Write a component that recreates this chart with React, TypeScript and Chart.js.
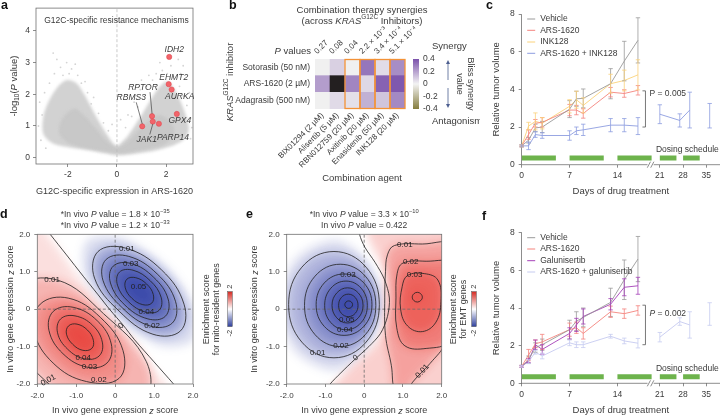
import React, { useEffect, useRef } from 'react';
import { Chart, registerables, LinearScale } from 'chart.js';

const FONT = "'Liberation Sans', Arial, Helvetica, sans-serif";
const INK = '#3a3a3a';
const AXIS = '#707070';

/* ---------------- panel a : volcano ---------------- */
const A_X_TICKS = [-2, 0, 2];
const A_Y_TICKS = [0, 1, 2, 3, 4];
const A_GENES = ['IDH2', 'EHMT2', 'AURKA', 'GPX4', 'RPTOR', 'JAK1', 'PARP14', 'RBMS3'];
const A_GENE_X = [2.13, 2.11, 2.23, 2.44, 1.43, 1.46, 1.71, 1.03];
const A_GENE_Y = [3.18, 2.32, 2.15, 1.38, 1.31, 1.14, 1.07, 0.99];
const A_CLOUD_OUTER = [[0, 0.08], [-0.5, 0.14], [-1.2, 0.24], [-1.9, 0.32], [-2.6, 0.45], [-3.0, 0.75], [-3.0, 1.3], [-2.8, 1.75], [-2.45, 2.2], [-2.05, 2.45], [-1.65, 2.35], [-1.3, 1.95], [-0.85, 1.3], [-0.45, 0.78], [-0.15, 0.45], [0, 0.38], [0.15, 0.45], [0.5, 0.75], [0.95, 1.28], [1.35, 1.8], [1.7, 2.2], [2.05, 2.4], [2.45, 2.0], [2.8, 1.35], [2.92, 0.85], [2.6, 0.5], [1.7, 0.25], [0.6, 0.11]];
const A_CLOUD_CORE = [[0, 0.14], [-0.6, 0.2], [-1.3, 0.3], [-1.95, 0.45], [-2.35, 0.75], [-2.25, 1.2], [-1.75, 1.55], [-1.35, 1.35], [-0.9, 0.95], [-0.45, 0.55], [0, 0.32], [0.45, 0.52], [0.9, 0.88], [1.35, 1.2], [1.75, 1.35], [2.15, 1.15], [2.35, 0.8], [2.0, 0.45], [1.4, 0.3], [0.65, 0.18]];
const A_SPARSE = [[-3.15, 1.75], [-3.05, 1.35], [-3.2, 1.0], [-3.1, 0.55], [-2.95, 2.05], [-2.75, 2.35], [-2.55, 2.65], [-2.3, 2.85], [-2.05, 3.0], [-1.85, 2.8], [-1.6, 2.6], [-1.45, 2.35], [-2.2, 2.6], [-1.95, 2.65], [-1.2, 2.05], [-1.05, 1.7], [-0.75, 1.4], [-0.55, 1.1], [-1.7, 2.95], [-2.45, 3.1], [-1.3, 2.4], [-2.9, 0.3], [-0.35, 0.85], [-0.95, 1.9], [0.35, 0.95], [0.6, 1.3], [0.85, 1.6], [1.05, 1.95], [1.2, 2.25], [1.45, 2.45], [1.6, 2.65], [1.85, 2.75], [2.05, 2.65], [2.3, 2.55], [2.55, 2.25], [2.7, 1.95], [2.85, 1.65], [3.0, 1.25], [3.05, 0.95], [3.0, 0.6], [1.3, 2.6], [0.95, 2.15], [2.2, 2.9], [1.75, 3.0], [2.6, 2.65], [2.95, 2.05], [0.7, 1.75], [0.45, 1.35], [2.7, 2.9], [1.0, 2.45], [-0.2, 1.05], [0.15, 1.2], [-2.6, 3.3], [2.5, 3.1]];
// label layout (pixel offsets from the point)
const A_LABEL_DX = [5, 5, 8, 3, -9, -6, 14, -11];
const A_LABEL_DY = [-7, -7, 7, 7, -29, 18, 14, -29];
const A_LEADER_DX = [null, null, null, null, 7, 3, null, 5];

/* ---------------- panel b : heatmap ---------------- */
const B_AGENTS = ['BIX01294 (2 µM)', 'Alisertib (5 µM)', 'RBN012759 (20 µM)', 'Axitinib (20 µM)', 'Enasidenib (50 µM)', 'INK128 (20 µM)'];
const B_P_VALUES = ['0.27', '0.08', '0.04', '2.2 × 10⁻³', '3.4 × 10⁻⁴', '5.1 × 10⁻⁴'];
const B_INHIBITORS = ['Sotorasib (50 nM)', 'ARS-1620 (2 µM)', 'Adagrasib (500 nM)'];
const B_SOTORASIB = [0.0, 0.08, 0.0, 0.31, 0.05, 0.25];
const B_ARS1620 = [0.21, 0.6, 0.27, 0.06, 0.36, 0.385];
const B_ADAGRASIB = [0.0, 0.055, 0.04, 0.16, 0.11, 0.26];
const B_HIGHLIGHT = [2, 3, 4, 5];
const B_CBAR_TICKS = [0.4, 0.2, 0, -0.2, -0.4];

/* ---------------- panels c & f : tumour growth ---------------- */
const DAYS = [0, 1, 2, 3, 7, 8, 9, 13, 15, 17];
const LATE_DAYS = [21, 27, 30, 36];
const DAY_TICKS = [0, 7, 14, 21, 28, 35];
const VOL_TICKS_STEP = 2;
const DOSING = [[0, 5], [7, 12], [14, 19], [21, 26], [28, 33]];

const VEH_C = [1.0, 1.3, 1.95, 2.0, 2.95, 3.5, 3.52, 4.3, 5.5, 6.6];
const VEH_C_ERR = [0.05, 0.15, 0.2, 0.3, 0.45, 0.4, 0.5, 0.8, 1.05, 1.2];
const ARS_C = [1.0, 1.6, 2.2, 2.25, 2.9, 2.9, 2.72, 3.85, 3.78, 3.95];
const ARS_C_ERR = [0.05, 0.25, 0.2, 0.25, 0.3, 0.25, 0.25, 0.25, 0.2, 0.25];
const INK_C = [1.0, 2.05, 2.3, 2.2, 3.1, 3.45, 3.15, 4.3, 4.47, 4.77];
const INK_C_ERR = [0.05, 0.2, 0.45, 0.3, 0.35, 0.45, 0.4, 0.5, 0.55, 0.8];
const COMBO_C = [1.0, 1.0, 1.6, 1.55, 1.55, 1.8, 1.85, 2.1, 2.1, 2.05];
const COMBO_C_ERR = [0.05, 0.2, 0.15, 0.15, 0.25, 0.2, 0.3, 0.35, 0.35, 0.45];
const COMBO_C_LATE = [2.68, 2.35, 2.9, 2.6];
const COMBO_C_LATE_ERR = [0.5, 0.35, 0.95, 0.65];
const C_LABELS = ['Vehicle', 'ARS-1620', 'INK128', 'ARS-1620 + INK128'];

const VEH_F = [0.9, 1.25, 1.9, 2.05, 2.85, 3.3, 3.5, 4.3, 5.5, 6.6];
const VEH_F_ERR = [0.05, 0.2, 0.25, 0.3, 0.5, 0.5, 0.5, 0.75, 1.05, 1.2];
const ARS_F = [0.9, 1.5, 2.1, 2.2, 2.85, 2.95, 2.65, 3.8, 3.7, 3.87];
const ARS_F_ERR = [0.05, 0.3, 0.2, 0.4, 0.35, 0.3, 0.3, 0.3, 0.25, 0.25];
const GAL_F = [0.9, 1.2, 2.05, 1.8, 2.65, 3.1, 3.55, 4.2, 5.1, 5.18];
const GAL_F_ERR = [0.05, 0.1, 0.25, 0.25, 0.3, 0.35, 0.4, 0.3, 0.45, 0.45];
const COMBO_F = [0.9, 1.15, 1.65, 1.45, 2.15, 2.05, 2.05, 2.5, 2.25, 2.13];
const COMBO_F_ERR = [0.05, 0.1, 0.1, 0.15, 0.15, 0.15, 0.15, 0.1, 0.15, 0.25];
const COMBO_F_LATE = [2.45, 3.28, 3.1, 3.68];
const COMBO_F_LATE_ERR = [0.25, 0.2, 0.7, 0.6];
const F_LABELS = ['Vehicle', 'ARS-1620', 'Galunisertib', 'ARS-1620 + galunisertib'];

/* ---------------- panels d & e : contour maps ---------------- */
const MAP_TICKS = [-2, -1, 0, 1, 2];
const D_BLUE = [
  [[1.68, -0.58], [1.77, 0.13], [1.19, 1.05], [0.27, 1.63], [-0.44, 1.54], [-0.53, 0.83], [0.1, -0.05], [0.97, -0.67]],
  [[1.47, -0.37], [1.55, 0.21], [1.08, 0.94], [0.35, 1.41], [-0.23, 1.33], [-0.31, 0.76], [0.18, 0.04], [0.9, -0.45]],
  [[1.29, -0.19], [1.36, 0.27], [0.99, 0.85], [0.41, 1.22], [-0.05, 1.15], [-0.12, 0.7], [0.25, 0.11], [0.84, -0.26]],
  [[1.13, -0.03], [1.18, 0.32], [0.9, 0.76], [0.46, 1.04], [0.11, 0.99], [0.06, 0.64], [0.34, 0.2], [0.78, -0.08]],
  [[0.94, 0.16], [0.98, 0.39], [0.81, 0.67], [0.53, 0.84], [0.3, 0.8], [0.26, 0.57], [0.43, 0.29], [0.71, 0.12]],
];
const D_BLUE_HALO = [[1.96, -0.86], [2.05, 0.0], [1.29, 1.15], [0.15, 1.91], [-0.72, 1.82], [-0.78, 0.92], [0.0, -0.15], [1.1, -0.95]];
const D_RED = [
  [[0.75, -2.4], [0.8, -1.4], [-0.3, -0.12], [-1.475, 0.775], [-2.535, 0.585], [-2.725, -0.475], [-1.93, -1.78], [-0.625, -2.575]],
  [[0.1, -1.85], [0.2, -1.1], [-0.38, -0.22], [-1.205, 0.295], [-1.924, 0.134], [-2.085, -0.585], [-1.592, -1.442], [-0.735, -1.935]],
  [[-0.21, -1.44], [-0.1, -0.93], [-0.46, -0.31], [-1.08, 0.05], [-1.59, -0.06], [-1.7, -0.57], [-1.34, -1.19], [-0.72, -1.55]],
  [[-0.41, -1.25], [-0.33, -0.88], [-0.58, -0.43], [-1.03, -0.18], [-1.4, -0.26], [-1.48, -0.63], [-1.22, -1.07], [-0.78, -1.33]],
  [[-0.6, -1.05], [-0.56, -0.83], [-0.71, -0.56], [-0.98, -0.4], [-1.2, -0.45], [-1.25, -0.67], [-1.09, -0.94], [-0.83, -1.1]],
];
const D_RED_HALO = [[-1.85, 2.1], [-0.95, 0.85], [-0.25, -0.05], [0.4, -0.9], [1.35, -2.1], [1.4, -2.6], [-2.6, -2.6], [-2.6, 2.4]];
const D_ZERO = [[-1.9, 2.3], [-1.67, 2.0], [-1.25, 1.45], [-0.82, 0.88], [-0.45, 0.4], [-0.13, -0.02], [0.2, -0.42], [0.5, -0.82], [1.0, -1.41], [1.5, -2.0], [1.7, -2.25]];
const D_LABELS = [['0.01', 0.3, 1.62, 0], ['0.03', 0.4, 1.2, 0], ['0.05', 0.6, 0.6, 0], ['0.04', 0.8, -0.07, 0], ['0.02', 0.95, -0.45, 0], ['0', 0.15, -0.45, -0.7], ['0.01', -1.62, 0.79, 0], ['0.04', -0.82, -1.3, 0], ['0.03', -0.66, -1.54, 0], ['0.02', -0.42, -1.88, 0], ['0.01', -1.72, -1.9, -0.5]];

const E_BLUE = [
  [[0.39, 0.12], [0.05, 1.12], [-0.78, 1.54], [-1.61, 1.12], [-1.95, 0.12], [-1.61, -0.88], [-0.78, -1.3], [0.05, -0.88]],
  [[0.3, 0.1], [0.03, 0.88], [-0.62, 1.2], [-1.27, 0.88], [-1.54, 0.1], [-1.27, -0.68], [-0.62, -1.0], [0.03, -0.68]],
  [[0.2, 0.12], [-0.01, 0.7], [-0.52, 0.94], [-1.03, 0.7], [-1.24, 0.12], [-1.03, -0.46], [-0.52, -0.7], [-0.01, -0.46]],
  [[0.08, 0.1], [-0.08, 0.56], [-0.47, 0.75], [-0.86, 0.56], [-1.02, 0.1], [-0.86, -0.36], [-0.47, -0.55], [-0.08, -0.36]],
  [[-0.03, 0.1], [-0.15, 0.43], [-0.43, 0.57], [-0.71, 0.43], [-0.83, 0.1], [-0.71, -0.23], [-0.43, -0.37], [-0.15, -0.23]],
  [[-0.16, 0.1], [-0.23, 0.31], [-0.41, 0.4], [-0.59, 0.31], [-0.66, 0.1], [-0.59, -0.11], [-0.41, -0.2], [-0.23, -0.11]],
  [[-0.3, 0.12], [-0.33, 0.19], [-0.4, 0.22], [-0.47, 0.19], [-0.5, 0.12], [-0.47, 0.05], [-0.4, 0.02], [-0.33, 0.05]],
];
const E_BLUE_HALO = [[0.42, 0.1], [0.05, 1.3], [-0.75, 1.85], [-1.78, 1.34], [-2.2, 0.1], [-1.78, -1.14], [-0.75, -1.65], [0.0, -1.1]];
const E_RED = [
  [[0.6, 1.45], [0.78, 1.7], [1.5, 1.74], [2.3, 1.7], [2.45, 0.3], [2.1, -0.9], [1.7, -1.45], [1.25, -1.95], [1.05, -2.3], [0.8, -2.2], [0.7, -1.5], [0.55, -0.7], [0.53, 0.3], [0.55, 1.0]],
  [[0.85, 0.95], [1.0, 1.23], [1.6, 1.28], [2.3, 1.2], [2.4, 0.1], [2.2, -0.85], [1.6, -1.05], [1.05, -0.98], [0.84, -0.5], [0.82, 0.3]],
  [[0.98, 0.6], [1.12, 0.9], [1.55, 0.95], [1.9, 0.78], [1.98, 0.2], [1.85, -0.35], [1.5, -0.6], [1.12, -0.45], [0.94, 0.0]],
  [[1.5, 0.32], [1.46, 0.41], [1.37, 0.45], [1.28, 0.41], [1.24, 0.32], [1.28, 0.23], [1.37, 0.19], [1.46, 0.23]],
];
const E_RED_HALO = [[0.05, 2.5], [2.6, 2.5], [2.6, -2.5], [-1.1, -2.5], [-0.35, -1.55], [0.2, -1.05], [0.55, -0.5], [0.74, 0.2], [0.62, 0.9], [0.35, 1.4], [0.1, 1.95]];
const E_ZERO = [[-0.15, 2.4], [-0.12, 2.0], [0.02, 1.65], [0.28, 1.25], [0.52, 0.8], [0.65, 0.3], [0.6, -0.2], [0.42, -0.65], [0.12, -1.0], [-0.25, -1.35], [-0.6, -1.7], [-0.88, -2.0], [-1.05, -2.25]];
const E_LABELS = [['0.01', 1.05, 1.72, 0], ['0.02', 1.2, 1.26, 0], ['0.03', 1.3, 0.93, 0], ['0.01', 1.5, -1.66, -0.82], ['0', -0.22, -1.3, -0.6], ['0.03', -0.42, 0.93, 0], ['0.05', -0.45, -0.28, 0], ['0.04', -0.5, -0.56, 0], ['0.02', -0.6, -0.99, 0], ['0.01', -1.2, -1.16, 0]];

/* ---------------- helpers ---------------- */
const pts = (arr) => arr.map(([x, y]) => ({ x, y }));
const T = (t, o = {}) => ({ t, ...o });

function rich(ctx, runs, x, y, size, align = 'center', rot = 0, color = INK) {
  ctx.save();
  ctx.translate(x, y);
  if (rot) ctx.rotate(rot);
  const fontOf = (r) => `${r.b ? 'bold ' : ''}${r.i ? 'italic ' : ''}${r.sup || r.sub ? size * 0.68 : size}px ${FONT}`;
  let total = 0;
  const ws = runs.map((r) => { ctx.font = fontOf(r); const w = ctx.measureText(r.t).width; total += w; return w; });
  let cx = align === 'center' ? -total / 2 : align === 'right' ? -total : 0;
  ctx.fillStyle = color;
  ctx.textBaseline = 'middle';
  ctx.textAlign = 'left';
  runs.forEach((r, k) => {
    ctx.font = fontOf(r);
    const dy = r.sup ? -size * 0.38 : r.sub ? size * 0.3 : 0;
    ctx.fillText(r.t, cx, dy);
    cx += ws[k];
  });
  ctx.restore();
}

// broken day axis: second segment is compressed
const SEG2_START = 21;
const SEG2_AXIS = 20.2;
const SEG2_RATE = 0.486;
const dayToAxis = (d) => (d <= 20 ? d : SEG2_AXIS + (d - SEG2_START) * SEG2_RATE);

class BrokenScale extends LinearScale {
  static id = 'brokenLinear';
  getPixelForValue(v) {
    return super.getPixelForValue(v === null || v === undefined || isNaN(v) ? v : dayToAxis(v));
  }
}

const fxPlugin = {
  id: 'fx',
  afterDatasetsUpdate(chart) {
    chart.data.datasets.forEach((ds, i) => {
      if (!ds.closed) return;
      const el = chart.getDatasetMeta(i).dataset;
      if (!el) return;
      el._loop = true;
      el._fullLoop = true;
      el._pointsUpdated = false;
      delete el._segments;
      delete el._path;
    });
  },
  beforeDatasetsDraw(chart, _a, opts) {
    if (opts && opts.blur) {
      chart.ctx.save();
      chart.ctx.filter = `blur(${opts.blur}px)`;
      chart.$fxOn = true;
    }
  },
  beforeDatasetDraw(chart) {
    if (chart.$fxOn) { chart.ctx.restore(); chart.$fxOn = false; }
  },
  afterDatasetsDraw(chart) {
    if (chart.$fxOn) { chart.ctx.restore(); chart.$fxOn = false; }
  },
};

Chart.register(fxPlugin);
Chart.register(...registerables);
Chart.register(BrokenScale);
Chart.defaults.font.family = FONT;
Chart.defaults.font.size = 8;
Chart.defaults.color = INK;

const tickFont = (size = 8) => ({ color: INK, font: { family: FONT, size } });
const gridTicks = { display: true, drawOnChartArea: false, drawTicks: true, tickLength: 3, color: AXIS, lineWidth: 0.8 };
const noGrid = { display: false, drawTicks: false };
const baseOpts = {
  responsive: false,
  maintainAspectRatio: false,
  animation: false,
  events: [],
};
const basePlugins = { legend: { display: false }, tooltip: { enabled: false }, filler: { drawTime: 'beforeDatasetsDraw' } };
const fixedTicks = (vals) => (s) => { s.ticks = vals.map((v) => ({ value: v })); };
const letter = (ctx, l, x, y) => rich(ctx, [T(l, { b: true })], x, y, 12.5, 'left', 0, '#111');

/* ---------------- panel a ---------------- */
function buildA() {
  const plug = {
    id: 'plugA',
    afterDraw(chart) {
      const { ctx, chartArea: a, scales: { x, y } } = chart;
      ctx.save();
      ctx.strokeStyle = AXIS; ctx.lineWidth = 0.8;
      ctx.strokeRect(a.left, a.top, a.right - a.left, a.bottom - a.top);
      rich(ctx, [T('G12C-specific resistance mechanisms')], (a.left + a.right) / 2 + 2, a.top + 13, 8.5);
      A_GENES.forEach((g, i) => {
        const px = x.getPixelForValue(A_GENE_X[i]);
        const py = y.getPixelForValue(A_GENE_Y[i]);
        const lx = px + A_LABEL_DX[i];
        const ly = py + A_LABEL_DY[i];
        if (A_LEADER_DX[i] !== null) {
          const up = A_LABEL_DY[i] < 0;
          ctx.beginPath();
          ctx.moveTo(lx + A_LEADER_DX[i], ly + (up ? 5 : -5));
          ctx.lineTo(px, py + (up ? -2.5 : 2.5));
          ctx.strokeStyle = '#444'; ctx.lineWidth = 0.7; ctx.stroke();
        }
        rich(ctx, [T(g, { i: true })], lx, ly, 8.5);
      });
      rich(ctx, [T('-log'), T('10', { sub: true }), T('('), T('P', { i: true }), T(' value)')], 14, (a.top + a.bottom) / 2, 9.5, 'center', -Math.PI / 2);
      letter(ctx, 'a', 1, 6);
      ctx.restore();
    },
  };
  return {
    type: 'scatter',
    data: {
      datasets: [
        { data: A_GENES.map((g, i) => ({ x: A_GENE_X[i], y: A_GENE_Y[i] })), pointRadius: 2.6, pointBackgroundColor: '#f2646a', pointBorderColor: '#e04a50', pointBorderWidth: 0.6 },
        { data: pts(A_SPARSE), pointRadius: 0.9, pointBackgroundColor: '#d4d4d4', pointBorderWidth: 0 },
        { data: [{ x: 0, y: -0.3 }, { x: 0, y: 5 }], showLine: true, pointRadius: 0, borderColor: '#bcbcbc', borderWidth: 0.8, borderDash: [3, 2], fill: false },
        { data: pts(A_CLOUD_CORE), showLine: true, closed: true, tension: 0.3, pointRadius: 0, borderWidth: 0, borderColor: 'rgba(0,0,0,0)', fill: 'shape', backgroundColor: 'rgba(190,190,190,0.5)' },
        { data: pts(A_CLOUD_OUTER), showLine: true, closed: true, tension: 0.3, pointRadius: 0, borderWidth: 0, borderColor: 'rgba(0,0,0,0)', fill: 'shape', backgroundColor: 'rgba(202,202,202,0.85)' },
      ],
    },
    options: {
      ...baseOpts,
      layout: { padding: { left: 0, top: 5, right: 29, bottom: 0 } },
      plugins: { ...basePlugins, fx: { blur: 1.5 } },
      scales: {
        x: {
          type: 'linear', min: -3.3, max: 3.1, afterBuildTicks: fixedTicks(A_X_TICKS),
          afterFit: (s) => { s.height = 41; },
          grid: gridTicks, border: { display: false },
          ticks: { ...tickFont(8.5), padding: 3 },
          title: { display: true, text: 'G12C-specific expression in ARS-1620', color: INK, font: { family: FONT, size: 9.5 }, padding: { top: 0, bottom: 7.5 } },
        },
        y: {
          type: 'linear', min: -0.2, max: 4.72, afterBuildTicks: fixedTicks(A_Y_TICKS),
          afterFit: (s) => { s.width = 36; },
          grid: gridTicks, border: { display: false },
          ticks: { ...tickFont(8.5), padding: 3 },
        },
      },
    },
    plugins: [plug],
  };
}

/* ---------------- panel b ---------------- */
function cellColor(v) {
  if (v > 0.45) return '#231f20';
  const t = Math.max(-1, Math.min(1, v / 0.4));
  const zero = [240, 240, 240];
  const end = t >= 0 ? [123, 82, 171] : [131, 125, 62];
  const a = Math.abs(t);
  return `rgb(${zero.map((z, k) => Math.round(z + (end[k] - z) * a)).join(',')})`;
}

function buildB() {
  const rowsBottomUp = [B_ADAGRASIB, B_ARS1620, B_SOTORASIB];
  const plug = {
    id: 'plugB',
    afterDraw(chart) {
      const { ctx, chartArea: a, scales: { x } } = chart;
      const w = x.getPixelForValue(1) - x.getPixelForValue(0);
      const h = a.bottom - a.top;
      const cy = (a.top + a.bottom) / 2;
      ctx.save();
      ctx.strokeStyle = '#f39237'; ctx.lineWidth = 1.3;
      B_HIGHLIGHT.forEach((i) => {
        const cx = x.getPixelForValue(i);
        ctx.strokeRect(cx - w / 2, a.top + 0.5, w, h - 1);
      });
      // colour bar
      const cbx = a.right + 8;
      const g = ctx.createLinearGradient(0, a.top, 0, a.bottom);
      g.addColorStop(0, '#7b52ab'); g.addColorStop(0.5, '#f3f3f3'); g.addColorStop(1, '#857d3e');
      ctx.fillStyle = g; ctx.fillRect(cbx, a.top, 6, h);
      B_CBAR_TICKS.forEach((v) => {
        const yy = a.top + ((0.4 - v) / 0.8) * h;
        rich(ctx, [T(v === 0 ? '0' : (v < 0 ? '-' : '') + Math.abs(v).toFixed(1))], cbx + 10, yy, 8.5, 'left');
      });
      // arrows
      const ax = a.right + 43;
      ctx.strokeStyle = '#4d5f90'; ctx.fillStyle = '#4d5f90'; ctx.lineWidth = 0.8;
      ctx.beginPath(); ctx.moveTo(ax, a.top + 21); ctx.lineTo(ax, a.top + 3); ctx.moveTo(ax, a.top + 29); ctx.lineTo(ax, a.bottom - 3); ctx.stroke();
      ctx.beginPath(); ctx.moveTo(ax, a.top + 1); ctx.lineTo(ax - 2, a.top + 5); ctx.lineTo(ax + 2, a.top + 5); ctx.closePath(); ctx.fill();
      ctx.beginPath(); ctx.moveTo(ax, a.bottom - 1); ctx.lineTo(ax - 2, a.bottom - 5); ctx.lineTo(ax + 2, a.bottom - 5); ctx.closePath(); ctx.fill();
      rich(ctx, [T('Synergy')], a.right + 27, a.top - 13, 9.5, 'left');
      rich(ctx, [T('Antagonism')], a.right + 27, a.bottom + 12, 9.5, 'left');
      rich(ctx, [T('Bliss synergy')], a.right + 65, cy, 9, 'center', Math.PI / 2);
      rich(ctx, [T('value')], a.right + 54, cy, 9, 'center', Math.PI / 2);
      // titles
      const mx = (a.left + a.right) / 2 + 2;
      rich(ctx, [T('Combination therapy synergies')], mx, 10, 9.5);
      rich(ctx, [T('(across '), T('KRAS', { i: true }), T('G12C', { sup: true }), T(' Inhibitors)')], mx, 21, 9.5);
      rich(ctx, [T('P', { i: true }), T(' values')], a.left - 4, 51, 9.5, 'right');
      rich(ctx, [T('KRAS', { i: true }), T('G12C', { sup: true }), T(' inhibitor')], 8, cy - 2, 9.5, 'center', -Math.PI / 2);
      rich(ctx, [T('Combination agent')], mx, 178, 9.5);
      letter(ctx, 'b', 7, 6);
      ctx.restore();
    },
  };
  return {
    type: 'bar',
    data: {
      labels: B_AGENTS,
      datasets: rowsBottomUp.map((vals) => ({
        data: vals.map(() => 1),
        backgroundColor: vals.map(cellColor),
        borderWidth: 0,
        barPercentage: 1,
        categoryPercentage: 1,
      })),
    },
    options: {
      ...baseOpts,
      layout: { padding: { left: 0, top: 0, right: 75, bottom: 0 } },
      plugins: { ...basePlugins },
      scales: {
        x: {
          type: 'category', stacked: true, offset: true,
          grid: noGrid, border: { display: false },
          ticks: { ...tickFont(8), minRotation: 45, maxRotation: 45, autoSkip: false, padding: 2 },
          afterFit: (s) => { s.height = 96; },
        },
        x2: {
          type: 'category', labels: B_P_VALUES, position: 'top', offset: true,
          grid: noGrid, border: { display: false },
          ticks: { ...tickFont(8), minRotation: 45, maxRotation: 45, autoSkip: false, padding: 3 },
          afterFit: (s) => { s.height = 59; },
        },
        y: {
          type: 'linear', stacked: true, min: 0, max: 3,
          afterBuildTicks: fixedTicks([0.5, 1.5, 2.5]),
          grid: noGrid, border: { display: false },
          ticks: { ...tickFont(8.5), padding: 5, callback: (v, i) => B_INHIBITORS[2 - i] },
          afterFit: (s) => { s.width = 93; },
        },
      },
    },
    plugins: [plug],
  };
}

/* ---------------- panels c & f ---------------- */
const LEGEND_DY = [5, 16.3, 28, 39.3];
const BREAK_L = 18.4;
const BREAK_R = 19.3;
const DOSING_Y = 0.35;
const DOSING_LABEL_DAY = 29.3;
const BRACKET_DAY = 18.1;

function buildTumor(spec) {
  const datasets = [];
  spec.groups.forEach((g) => {
    datasets.push({ data: DAYS.map((d, i) => ({ x: d, y: g.vals[i] })), err: g.err, showLine: true, borderColor: g.color, borderWidth: 0.9, pointRadius: 0, fill: false });
  });
  datasets.push({ data: LATE_DAYS.map((d, i) => ({ x: d, y: spec.late.vals[i] })), err: spec.late.err, showLine: true, borderColor: spec.late.color, borderWidth: 0.9, pointRadius: 0, fill: false });
  DOSING.forEach(([s, e]) => {
    datasets.push({ data: [{ x: s, y: DOSING_Y }, { x: e, y: DOSING_Y }], showLine: true, borderColor: '#6db34c', borderWidth: 5, pointRadius: 0, fill: false });
  });
  const plug = {
    id: 'tumor_' + spec.letter,
    afterDatasetsDraw(chart) {
      const { ctx, scales: { x, y } } = chart;
      ctx.save(); ctx.lineWidth = 0.8;
      chart.data.datasets.forEach((ds) => {
        if (!ds.err) return;
        ctx.strokeStyle = ds.borderColor;
        ds.data.forEach((p, k) => {
          const px = x.getPixelForValue(p.x);
          const lo = y.getPixelForValue(p.y - ds.err[k]);
          const hi = y.getPixelForValue(p.y + ds.err[k]);
          ctx.beginPath();
          ctx.moveTo(px, lo); ctx.lineTo(px, hi);
          ctx.moveTo(px - 2.2, lo); ctx.lineTo(px + 2.2, lo);
          ctx.moveTo(px - 2.2, hi); ctx.lineTo(px + 2.2, hi);
          ctx.stroke();
        });
      });
      ctx.restore();
    },
    afterDraw(chart) {
      const { ctx, chartArea: a, scales: { x, y } } = chart;
      ctx.save();
      ctx.strokeStyle = AXIS; ctx.lineWidth = 0.8;
      ctx.beginPath();
      ctx.moveTo(x.getPixelForValue(0) - 0.4, a.bottom); ctx.lineTo(x.getPixelForValue(BREAK_L), a.bottom);
      ctx.moveTo(x.getPixelForValue(BREAK_R), a.bottom); ctx.lineTo(a.right, a.bottom);
      [BREAK_L + 0.2, BREAK_R - 0.2].forEach((v) => {
        const bx = x.getPixelForValue(v);
        ctx.moveTo(bx - 1.6, a.bottom + 3); ctx.lineTo(bx + 1.6, a.bottom - 3);
      });
      ctx.stroke();
      spec.labels.forEach((lab, k) => {
        const yy = a.top + LEGEND_DY[k];
        ctx.strokeStyle = spec.colors[k]; ctx.lineWidth = 1;
        ctx.beginPath(); ctx.moveTo(a.left + 5.5, yy); ctx.lineTo(a.left + 13.5, yy); ctx.stroke();
        rich(ctx, [T(lab)], a.left + 18.5, yy, 8.5, 'left');
      });
      const bx = x.getPixelForValue(BRACKET_DAY);
      const b1 = y.getPixelForValue(spec.bracket[0]);
      const b2 = y.getPixelForValue(spec.bracket[1]);
      ctx.strokeStyle = '#555'; ctx.lineWidth = 0.8;
      ctx.beginPath(); ctx.moveTo(bx - 3, b1); ctx.lineTo(bx, b1); ctx.lineTo(bx, b2); ctx.lineTo(bx - 3, b2); ctx.stroke();
      rich(ctx, spec.pRuns, bx + 4, y.getPixelForValue(spec.pTextY), 8.5, 'left');
      rich(ctx, [T('Dosing schedule')], x.getPixelForValue(DOSING_LABEL_DAY), y.getPixelForValue(0.78), 8.5);
      letter(ctx, spec.letter, spec.letterX, spec.letterY);
      ctx.restore();
    },
  };
  return {
    type: 'scatter',
    data: { datasets },
    options: {
      ...baseOpts,
      layout: { padding: { left: 0, top: spec.padTop, right: 1, bottom: 0 } },
      plugins: { ...basePlugins },
      scales: {
        x: {
          type: 'brokenLinear', min: 0, max: 29, afterBuildTicks: fixedTicks(DAY_TICKS),
          afterFit: (s) => { s.height = spec.xH; },
          grid: gridTicks, border: { display: false },
          ticks: { ...tickFont(8.5), padding: 3, autoSkip: false },
          title: { display: true, text: 'Days of drug treatment', color: INK, font: { family: FONT, size: 9.5 }, padding: { top: 0, bottom: spec.titlePad } },
        },
        y: {
          type: 'linear', min: 0, max: 8,
          afterFit: (s) => { s.width = 41.7; },
          grid: gridTicks, border: { display: true, color: AXIS, width: 0.8 },
          ticks: { ...tickFont(8.5), padding: 4, stepSize: VOL_TICKS_STEP },
          title: { display: true, text: 'Relative tumor volume', color: INK, font: { family: FONT, size: 9.5 }, padding: { top: 11, bottom: 0 } },
        },
      },
    },
    plugins: [plug],
  };
}

const buildC = () => buildTumor({
  letter: 'c', letterX: 6, letterY: 6, padTop: 14, xH: 40.3, titlePad: 8.3,
  labels: C_LABELS, colors: ['#9a9a9a', '#f4837d', '#fbd27b', '#8d9de0'],
  groups: [
    { vals: VEH_C, err: VEH_C_ERR, color: '#9a9a9a' },
    { vals: ARS_C, err: ARS_C_ERR, color: '#f4837d' },
    { vals: INK_C, err: INK_C_ERR, color: '#fbd27b' },
    { vals: COMBO_C, err: COMBO_C_ERR, color: '#8d9de0' },
  ],
  late: { vals: COMBO_C_LATE, err: COMBO_C_LATE_ERR, color: '#8d9de0' },
  bracket: [3.92, 2.0], pTextY: 3.76, pRuns: [T('P = 0.005')],
});

const buildF = () => buildTumor({
  letter: 'f', letterX: 2, letterY: 12, padTop: 27.7, xH: 32.7, titlePad: 0.3,
  labels: F_LABELS, colors: ['#9a9a9a', '#f4837d', '#a540b8', '#c6cbf0'],
  groups: [
    { vals: VEH_F, err: VEH_F_ERR, color: '#9a9a9a' },
    { vals: ARS_F, err: ARS_F_ERR, color: '#f4837d' },
    { vals: GAL_F, err: GAL_F_ERR, color: '#a540b8' },
    { vals: COMBO_F, err: COMBO_F_ERR, color: '#c6cbf0' },
  ],
  late: { vals: COMBO_F_LATE, err: COMBO_F_LATE_ERR, color: '#c6cbf0' },
  bracket: [4.15, 2.05], pTextY: 3.69, pRuns: [T('P', { i: true }), T(' = 0.002')],
});

/* ---------------- panels d & e ---------------- */
const BLUE_RGB = '40,56,162';
const RED_RGB = '230,40,32';

function buildMap(spec) {
  const line = (arr, closed, tension = 0.4) => ({ data: pts(arr), showLine: true, closed, tension, borderColor: '#1f1f1f', borderWidth: 0.8, pointRadius: 0, fill: false });
  const area = (arr, rgb, alpha, tension = 0.4) => ({ data: pts(arr), showLine: true, closed: true, tension, borderWidth: 0, borderColor: 'rgba(0,0,0,0)', pointRadius: 0, fill: 'shape', backgroundColor: `rgba(${rgb},${alpha})` });
  const dashed = (a, b) => ({ data: pts([a, b]), showLine: true, borderColor: '#6a6a6a', borderWidth: 0.8, borderDash: [3, 2], pointRadius: 0, fill: false });
  const datasets = [
    ...spec.blue.map((c) => line(c, true)),
    ...spec.red.map((c) => line(c, true)),
    line(spec.zero, false, 0.3),
    dashed([0, -2.5], [0, 2.5]),
    dashed([-2.5, 0], [2.5, 0]),
    area(spec.blueHalo, BLUE_RGB, spec.haloAlpha[0], 0.3),
    ...spec.blue.map((c, k) => area(c, BLUE_RGB, spec.blueAlpha[k])),
    area(spec.redHalo, RED_RGB, spec.haloAlpha[1], 0.2),
    ...spec.red.map((c, k) => area(c, RED_RGB, spec.redAlpha[k])),
  ];
  const plug = {
    id: 'map_' + spec.letter,
    afterDraw(chart) {
      const { ctx, chartArea: a, scales: { x, y } } = chart;
      ctx.save();
      ctx.strokeStyle = AXIS; ctx.lineWidth = 0.8;
      ctx.strokeRect(a.left, a.top, a.right - a.left, a.bottom - a.top);
      spec.labels.forEach(([t, lx, ly, rot]) => rich(ctx, [T(t)], x.getPixelForValue(lx), y.getPixelForValue(ly), 8, 'center', rot, '#222'));
      const mx = (a.left + a.right) / 2;
      const cy = (a.top + a.bottom) / 2;
      rich(ctx, spec.title1, mx, 10, 8.5);
      rich(ctx, spec.title2, mx, 20.5, 8.5);
      rich(ctx, [T('In vivo gene expression '), T('z', { i: true }), T(' score')], mx, 206, 9);
      rich(ctx, [T('In vitro gene expression '), T('z', { i: true }), T(' score')], spec.yTitleX, cy, 9, 'center', -Math.PI / 2);
      const cbx = a.right + spec.cbarDX;
      const g = ctx.createLinearGradient(0, cy - 17.5, 0, cy + 17.5);
      g.addColorStop(0, '#d52a22'); g.addColorStop(0.5, '#ffffff'); g.addColorStop(1, '#2e3f9c');
      ctx.fillStyle = g; ctx.fillRect(cbx, cy - 17.5, 4.6, 35);
      ctx.strokeStyle = '#555'; ctx.lineWidth = 0.5; ctx.strokeRect(cbx, cy - 17.5, 4.6, 35);
      rich(ctx, [T('2')], cbx + 2.3, cy - 22.5, 7.5, 'center', -Math.PI / 2);
      rich(ctx, [T('-2')], cbx + 2.3, cy + 24, 7.5, 'center', -Math.PI / 2);
      rich(ctx, [T('Enrichment score')], a.right + spec.textDX[0], cy, 9, 'center', -Math.PI / 2);
      rich(ctx, [T(spec.cbarLine2)], a.right + spec.textDX[1], cy, 9, 'center', -Math.PI / 2);
      letter(ctx, spec.letter, spec.letterX, 10);
      ctx.restore();
    },
  };
  const axis = (isX) => ({
    type: 'linear', min: -2, max: 2, afterBuildTicks: fixedTicks(MAP_TICKS),
    afterFit: isX ? (s) => { s.height = 32; } : (s) => { s.width = spec.yW; },
    grid: gridTicks, border: { display: false },
    ticks: { ...tickFont(8), padding: 4, callback: (v) => (v === 0 ? '0' : Number(v).toFixed(1)) },
  });
  return {
    type: 'scatter',
    data: { datasets },
    options: {
      ...baseOpts,
      elements: { line: { capBezierPoints: false } },
      layout: { padding: { left: 0, top: 29.3, right: spec.padRight, bottom: 0 } },
      plugins: { ...basePlugins, fx: { blur: 5 } },
      scales: { x: axis(true), y: axis(false) },
    },
    plugins: [plug],
  };
}

const buildD = () => buildMap({
  letter: 'd', letterX: 0, yW: 37.3, padRight: 47, yTitleX: 11, cbarDX: 34.7, textDX: [13.7, 23.7],
  cbarLine2: 'for mito-resident genes',
  blue: D_BLUE, red: D_RED, blueHalo: D_BLUE_HALO, redHalo: D_RED_HALO, zero: D_ZERO, labels: D_LABELS,
  blueAlpha: [0.3, 0.3, 0.32, 0.36, 0.42], redAlpha: [0.24, 0.27, 0.28, 0.3, 0.34], haloAlpha: [0.18, 0.15],
  title1: [T('*In vivo '), T('P', { i: true }), T(' value = 1.8 × 10'), T('−35', { sup: true })],
  title2: [T('*In vivo '), T('P', { i: true }), T(' value = 1.2 × 10'), T('−33', { sup: true })],
});

const buildE = () => buildMap({
  letter: 'e', letterX: 6, yW: 46.7, padRight: 38.3, yTitleX: 15, cbarDX: 30, textDX: [11.6, 21.6],
  cbarLine2: 'for EMT genes',
  blue: E_BLUE, red: E_RED, blueHalo: E_BLUE_HALO, redHalo: E_RED_HALO, zero: E_ZERO, labels: E_LABELS,
  blueAlpha: [0.24, 0.26, 0.28, 0.3, 0.32, 0.32, 0.32], redAlpha: [0.28, 0.3, 0.32, 0.38], haloAlpha: [0.17, 0.22],
  title1: [T('*In vivo '), T('P', { i: true }), T(' value = 3.3 × 10'), T('−10', { sup: true })],
  title2: [T('In vivo '), T('P', { i: true }), T(' value = 0.422')],
});

/* ---------------- layout ---------------- */
const PANELS = [
  { key: 'a', left: 0, top: 0, width: 222, height: 205, build: buildA },
  { key: 'b', left: 222, top: 0, width: 258, height: 205, build: buildB },
  { key: 'c', left: 480, top: 0, width: 241, height: 205, build: buildC },
  { key: 'd', left: 0, top: 205, width: 240, height: 211, build: buildD },
  { key: 'e', left: 240, top: 205, width: 240, height: 211, build: buildE },
  { key: 'f', left: 480, top: 205, width: 241, height: 211, build: buildF },
];

function ChartBox({ left, top, width, height, build }) {
  const ref = useRef(null);
  useEffect(() => {
    const chart = new Chart(ref.current, build());
    return () => chart.destroy();
  }, []);
  return <canvas ref={ref} width={width} height={height} style={{ position: 'absolute', left, top, width, height }} />;
}

export default function App() {
  return (
    <div style={{ position: 'fixed', left: 0, top: 0, width: 721, height: 416, background: '#ffffff', overflow: 'hidden' }}>
      {PANELS.map((p) => (
        <ChartBox key={p.key} left={p.left} top={p.top} width={p.width} height={p.height} build={p.build} />
      ))}
    </div>
  );
}
